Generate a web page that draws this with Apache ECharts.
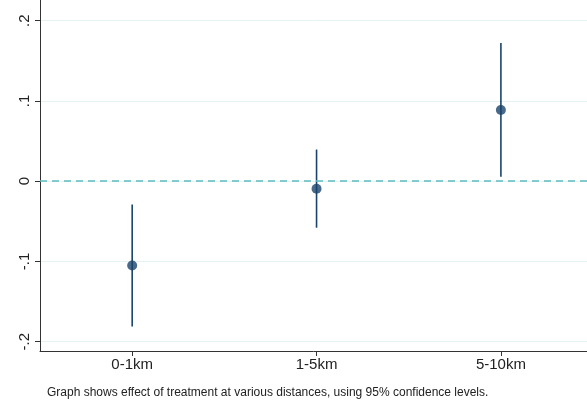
<!DOCTYPE html>
<html>
<head>
<meta charset="utf-8">
<script src="https://cdn.jsdelivr.net/npm/echarts@6/dist/echarts.min.js"></script>
<style>
  html, body { margin: 0; padding: 0; background: #fff; }
  #chart { width: 587px; height: 400px; }
</style>
</head>
<body>
<div id="chart"></div>
<script>
// distance bins and estimates
const categories = ['0-1km', '1-5km', '5-10km'];
const positions = [1, 2, 3];
const estimates = [-0.105, -0.0095, 0.0887];
const ciLower = [-0.181, -0.058, 0.0055];
const ciUpper = [-0.029, 0.0394, 0.172];
const yTicks = [-0.2, -0.1, 0, 0.1, 0.2];
const note = 'Graph shows effect of treatment at various distances, using 95% confidence levels.';

const navy = '#1a446c';
const font = 'Liberation Sans, Arial, sans-serif';

const fmtY = v => {
  if (Math.abs(v) < 1e-9) return '0';
  return (v < 0 ? '-' : '') + String(Math.abs(v).toFixed(1)).replace(/^0/, '');
};

let chart = echarts.init(document.getElementById('chart'));

let option = {
  animation: false,
  title: {
    text: note,
    left: 42,
    top: 382,
    textStyle: { fontFamily: font, fontSize: 12, fontWeight: 'normal', color: '#222' }
  },
  grid: { left: 40, right: 0, top: 0, bottom: 49 },
  xAxis: {
    type: 'value',
    min: 0.5,
    max: 3.467,
    axisLine: { show: true, onZero: false, lineStyle: { color: '#333', width: 1 } },
    axisTick: { show: true, length: 5, customValues: positions, lineStyle: { color: '#333' } },
    axisLabel: {
      customValues: positions,
      formatter: v => categories[Math.round(v) - 1] || '',
      fontFamily: font, fontSize: 15, color: '#222', margin: 6
    },
    splitLine: { show: false }
  },
  yAxis: {
    type: 'value',
    min: -0.2116,
    max: 0.2257,
    axisLine: { show: true, onZero: false, lineStyle: { color: '#333', width: 1 } },
    axisTick: { show: true, length: 5, customValues: yTicks, lineStyle: { color: '#333' } },
    axisLabel: {
      customValues: yTicks,
      formatter: fmtY,
      rotate: 90,
      fontFamily: font, fontSize: 15, color: '#222', margin: 8
    },
    splitLine: { show: true, lineStyle: { color: '#e6f1f2', width: 1 } }
  },
  series: [
    {
      type: 'custom',
      data: positions.map((p, i) => [p, ciLower[i], ciUpper[i]]),
      renderItem: (params, api) => {
        const lo = api.coord([api.value(0), api.value(1)]);
        const hi = api.coord([api.value(0), api.value(2)]);
        return {
          type: 'line',
          shape: { x1: lo[0], y1: lo[1], x2: hi[0], y2: hi[1] },
          style: { stroke: navy, lineWidth: 1.6 }
        };
      },
      z: 3
    },
    {
      type: 'scatter',
      data: positions.map((p, i) => [p, estimates[i]]),
      symbol: 'circle',
      symbolSize: 10,
      itemStyle: { color: navy },
      z: 4,
      markLine: {
        silent: true,
        symbol: 'none',
        label: { show: false },
        lineStyle: { color: '#5cbcc0', type: [7, 5], width: 1.5, opacity: 1 },
        data: [{ yAxis: 0 }]
      }
    }
  ]
};

chart.setOption(option);
window.addEventListener('resize', () => {
  chart.resize();
});
</script>
</body>
</html>
